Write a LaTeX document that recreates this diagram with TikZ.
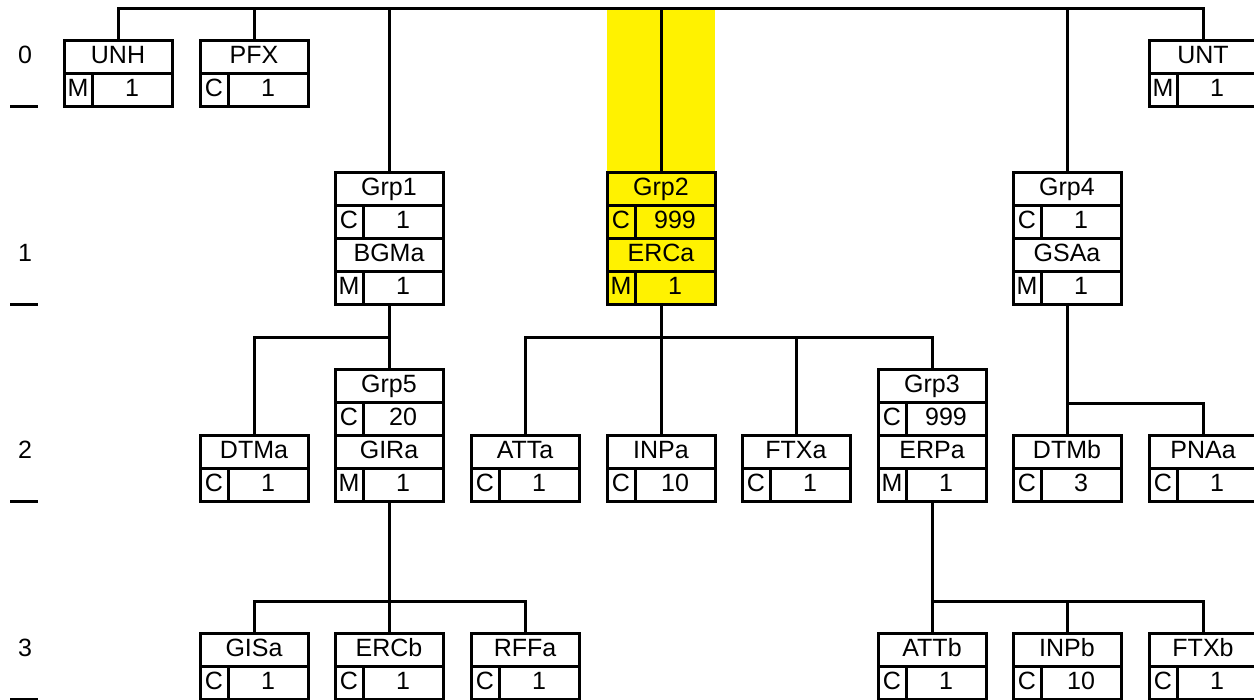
\documentclass[tikz,border=0pt]{standalone}
\usepackage{fontspec}
\setmainfont{Liberation Sans}
\usetikzlibrary{calc, backgrounds}

% one segment: tag row over a status / repetition row
\newcommand{\segrows}[6]{%
  \draw[cell] ($(#1.north west)+(0,#2+33)$) -- ++(108,0) ($(#1.north west)+(28,#2+33)$) -- ++(0,33);
  \node[celltext] (#1-tag#3) at ($(#1.north west)+(54,#2+23)$) {#4};
  \node[celltext] (#1-st#3) at ($(#1.north west)+(14,#2+56)$) {#5};
  \node[celltext] (#1-rep#3) at ($(#1.north west)+(68,#2+56)$) {#6};
}
\newcommand{\segbox}[6][]{%
  \node[segframe, minimum height=66pt, #1] (#2) at (#3) {};
  \segrows{#2}{0}{1}{#4}{#5}{#6}
}
\newcommand{\grpbox}[9][]{%
  \node[segframe, minimum height=132pt, #1] (#2) at (#3) {};
  \segrows{#2}{0}{1}{#4}{#5}{#6}
  \draw[cell] ($(#2.north west)+(0,66)$) -- ++(108,0);
  \segrows{#2}{66}{2}{#7}{#8}{#9}
}

\begin{document}
\begin{tikzpicture}[x=1pt, y=-1pt,
  segframe/.style={draw, line width=3pt, minimum width=108pt, inner sep=0pt, outer sep=0pt, anchor=north west},
  cell/.style={line width=3pt},
  celltext/.style={anchor=base, inner sep=0pt, font=\fontsize{25}{29}\selectfont},
  conn/.style={line width=3pt},
  lvltext/.style={anchor=base, inner sep=0pt, font=\fontsize{25}{29}\selectfont},
  lvlbar/.style={line width=3pt}]
\useasboundingbox (0,0) rectangle (1254,700);
\coordinate (root) at (0,9);
\coordinate (bus1) at (0,338);
\coordinate (bus2) at (0,404);
\coordinate (bus3) at (0,601);

% level numbers
\foreach \l/\b in {0/107,1/305,2/502,3/699} {
  \node[lvltext] (lvl\l) at (25,\b-43) {\l};
  \draw[lvlbar] (10,\b) -- (38,\b);
}

% level 0
\segbox{unh}{64,41}{UNH}{M}{1}
\segbox{pfx}{200,41}{PFX}{C}{1}
\segbox{unt}{1149,41}{UNT}{M}{1}
% level 1
\grpbox{grp1}{335,173}{Grp1}{C}{1}{BGMa}{M}{1}
\grpbox[fill=yellow]{grp2}{607,173}{Grp2}{C}{999}{ERCa}{M}{1}
\grpbox{grp4}{1013,173}{Grp4}{C}{1}{GSAa}{M}{1}
% level 2
\segbox{dtma}{200,436}{DTMa}{C}{1}
\grpbox{grp5}{335,370}{Grp5}{C}{20}{GIRa}{M}{1}
\segbox{atta}{471,436}{ATTa}{C}{1}
\segbox{inpa}{607,436}{INPa}{C}{10}
\segbox{ftxa}{742,436}{FTXa}{C}{1}
\grpbox{grp3}{878,370}{Grp3}{C}{999}{ERPa}{M}{1}
\segbox{dtmb}{1013,436}{DTMb}{C}{3}
\segbox{pnaa}{1149,436}{PNAa}{C}{1}
% level 3
\segbox{gisa}{200,633}{GISa}{C}{1}
\segbox{ercb}{335,633}{ERCb}{C}{1}
\segbox{rffa}{471,633}{RFFa}{C}{1}
\segbox{attb}{878,633}{ATTb}{C}{1}
\segbox{inpb}{1013,633}{INPb}{C}{10}
\segbox{ftxb}{1149,633}{FTXb}{C}{1}

\begin{scope}[on background layer]
\fill[yellow] (grp2.north west) rectangle (grp2.north east |- root);
\end{scope}

\draw[conn] (unh.north) |- (unt.north |- root) -- (unt.north);
\foreach \c in {pfx,grp1,grp2,grp4} \draw[conn] (\c.north) -- (\c.north |- root);
\foreach \c in {dtma,grp5} \draw[conn] (grp1.south) |- (\c.north |- bus1) -- (\c.north);
\foreach \c in {atta,inpa,ftxa,grp3} \draw[conn] (grp2.south) |- (\c.north |- bus1) -- (\c.north);
\foreach \c in {dtmb,pnaa} \draw[conn] (grp4.south) |- (\c.north |- bus2) -- (\c.north);
\foreach \c in {gisa,ercb,rffa} \draw[conn] (grp5.south) |- (\c.north |- bus3) -- (\c.north);
\foreach \c in {attb,inpb,ftxb} \draw[conn] (grp3.south) |- (\c.north |- bus3) -- (\c.north);
\end{tikzpicture}
\end{document}
